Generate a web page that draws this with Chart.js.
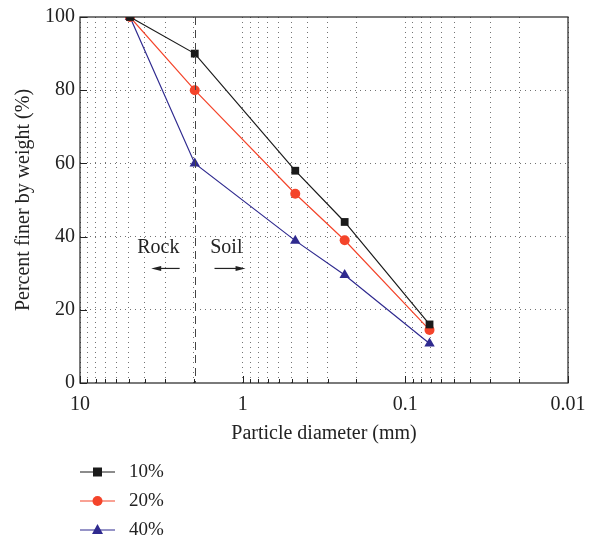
<!DOCTYPE html>
<html lang="en">
<head>
  <meta charset="UTF-8">
  <title>Particle size distribution</title>
  <script src="https://cdn.jsdelivr.net/npm/chart.js"></script>
  <style>
    html, body { margin: 0; padding: 0; background: #fff; }
    #wrap { width: 591px; height: 541px; }
  </style>
</head>
<body>
  <div id="wrap"><canvas id="gradChart" width="591" height="541"></canvas></div>

  <script>
    // sieve sizes (mm) and percent passing for each mix
    const diameters = [4.93, 1.97, 0.475, 0.236, 0.071];
    const pass10 = [100, 90, 58, 44, 16];
    const pass20 = [100, 80, 51.7, 39, 14.5];
    const pass40 = [100, 60, 38.9, 29.5, 10.8];
    const seriesNames = ['10%', '20%', '40%'];
    const xTickLabels = ['10', '1', '0.1', '0.01'];
    const yTickValues = [0, 20, 40, 60, 80, 100];
    const rockSoilLimit = 1.97;

    const FONT = '"Liberation Serif", "DejaVu Serif", serif';
    const FS = 20;

    function toPoints(vals) {
      return diameters.map((d, i) => ({ x: d, y: vals[i] }));
    }

    // log ticks: every 1..9 x 10^n between 0.01 and 10
    function logTicks() {
      const t = [];
      for (let e = -2; e <= 0; e++) {
        for (let m = 1; m <= 9; m++) t.push({ value: m * Math.pow(10, e) });
      }
      t.push({ value: 10 });
      return t;
    }
    function isMajor(v) {
      const l = Math.log10(v);
      return Math.abs(l - Math.round(l)) < 1e-6;
    }

    // frame, inward ticks, dashed boundary, Rock/Soil notes, legend
    const decorPlugin = {
      id: 'decor',
      afterDraw(chart) {
        const { ctx, chartArea: a, scales: { x, y } } = chart;
        ctx.save();
        ctx.strokeStyle = '#222';
        ctx.lineWidth = 1.2;
        ctx.strokeRect(a.left, a.top, a.right - a.left, a.bottom - a.top);

        // x ticks, inward from the bottom axis
        ctx.lineWidth = 1;
        x.ticks.forEach(t => {
          const px = Math.round(x.getPixelForValue(t.value)) + 0.5;
          const len = isMajor(t.value) ? 7 : 4;
          ctx.beginPath();
          ctx.moveTo(px, a.bottom);
          ctx.lineTo(px, a.bottom - len);
          ctx.stroke();
        });
        // y ticks, inward from the left axis
        y.ticks.forEach(t => {
          const py = Math.round(y.getPixelForValue(t.value)) + 0.5;
          ctx.beginPath();
          ctx.moveTo(a.left, py);
          ctx.lineTo(a.left + 7, py);
          ctx.stroke();
        });

        // rock / soil boundary
        const bx = Math.round(x.getPixelForValue(rockSoilLimit)) + 0.5;
        ctx.strokeStyle = '#444';
        ctx.setLineDash([8, 5]);
        ctx.beginPath();
        ctx.moveTo(bx, a.top);
        ctx.lineTo(bx, a.bottom);
        ctx.stroke();
        ctx.setLineDash([]);

        ctx.fillStyle = '#222';
        ctx.font = FS + 'px ' + FONT;
        ctx.textAlign = 'center';
        ctx.textBaseline = 'middle';
        ctx.fillText('Rock', x.getPixelForValue(3.3), y.getPixelForValue(37));
        ctx.fillText('Soil', x.getPixelForValue(1.26), y.getPixelForValue(37));

        function arrow(x1, x2, yy) {
          const p1 = x.getPixelForValue(x1), p2 = x.getPixelForValue(x2);
          const py = y.getPixelForValue(yy);
          const dir = Math.sign(p2 - p1);
          ctx.strokeStyle = '#222';
          ctx.lineWidth = 1.2;
          ctx.beginPath();
          ctx.moveTo(p1, py);
          ctx.lineTo(p2 - dir * 6, py);
          ctx.stroke();
          ctx.beginPath();
          ctx.moveTo(p2, py);
          ctx.lineTo(p2 - dir * 10, py - 2.5);
          ctx.lineTo(p2 - dir * 10, py + 2.5);
          ctx.closePath();
          ctx.fill();
        }
        arrow(2.44, 3.65, 31.3);
        arrow(1.49, 0.96, 31.3);

        // legend, stacked under the axis title
        const rows = [472, 501, 530];
        chart.data.datasets.forEach((ds, i) => {
          const ly = rows[i];
          ctx.strokeStyle = ds.borderColor;
          ctx.lineWidth = 1.2;
          ctx.beginPath();
          ctx.moveTo(80, ly);
          ctx.lineTo(115, ly);
          ctx.stroke();
          ctx.fillStyle = ds.backgroundColor;
          ctx.beginPath();
          if (ds.pointStyle === 'rect') {
            ctx.rect(93, ly - 4.5, 9, 9);
          } else if (ds.pointStyle === 'circle') {
            ctx.arc(97.5, ly, 5, 0, Math.PI * 2);
          } else {
            ctx.moveTo(97.5, ly - 6);
            ctx.lineTo(103, ly + 4);
            ctx.lineTo(92, ly + 4);
            ctx.closePath();
          }
          ctx.fill();
          ctx.fillStyle = '#222';
          ctx.font = '19px ' + FONT;
          ctx.textAlign = 'left';
          ctx.fillText(ds.label, 129, ly);
        });
        ctx.restore();
      }
    };

    const ctx = document.getElementById('gradChart').getContext('2d');
    new Chart(ctx, {
      type: 'line',
      data: {
        datasets: [
          { label: seriesNames[0], data: toPoints(pass10), borderColor: '#1a1a1a', backgroundColor: '#1a1a1a', pointStyle: 'rect', pointRadius: 5.5 },
          { label: seriesNames[1], data: toPoints(pass20), borderColor: '#f4442a', backgroundColor: '#f4442a', pointStyle: 'circle', pointRadius: 5 },
          { label: seriesNames[2], data: toPoints(pass40), borderColor: '#2f2a8f', backgroundColor: '#2f2a8f', pointStyle: 'triangle', pointRadius: 6 }
        ].map(d => Object.assign(d, { borderWidth: 1.2, pointBorderWidth: 0, tension: 0, fill: false }))
      },
      options: {
        responsive: false,
        animation: false,
        layout: { padding: { left: 4, right: 23, top: 16, bottom: 93 } },
        plugins: { legend: { display: false }, tooltip: { enabled: false } },
        scales: {
          x: {
            type: 'logarithmic',
            reverse: true,
            min: 0.01,
            max: 10,
            afterBuildTicks: s => { s.ticks = logTicks(); },
            afterFit: s => { s.height = 65; },
            ticks: {
              autoSkip: false,
              maxRotation: 0,
              color: '#222',
              font: { family: FONT, size: FS },
              padding: 10,
              callback: v => {
                if (!isMajor(v)) return '';
                const idx = Math.round(1 - Math.log10(v));
                return xTickLabels[idx];
              }
            },
            grid: { color: 'rgba(0,0,0,0.55)', lineWidth: 1, drawTicks: false, tickLength: 0 },
            border: { display: false, dash: [1, 4] },
            title: { display: true, text: 'Particle diameter (mm)', color: '#222', font: { family: FONT, size: FS }, padding: { top: 0, bottom: 2 } }
          },
          y: {
            min: 0,
            max: 100,
            afterBuildTicks: s => { s.ticks = yTickValues.map(v => ({ value: v })); },
            afterFit: s => { s.width = 76; },
            ticks: { color: '#222', font: { family: FONT, size: FS }, padding: 5 },
            grid: {
              color: c => (c.tick && (c.tick.value === 0 || c.tick.value === 100)) ? 'rgba(0,0,0,0)' : 'rgba(0,0,0,0.55)',
              lineWidth: 1, drawTicks: false
            },
            border: { display: false, dash: [1, 4] },
            title: { display: true, text: 'Percent finer by weight (%)', color: '#222', font: { family: FONT, size: FS }, padding: { top: 8, bottom: 0 } }
          }
        }
      },
      plugins: [decorPlugin]
    });
  </script>
</body>
</html>
